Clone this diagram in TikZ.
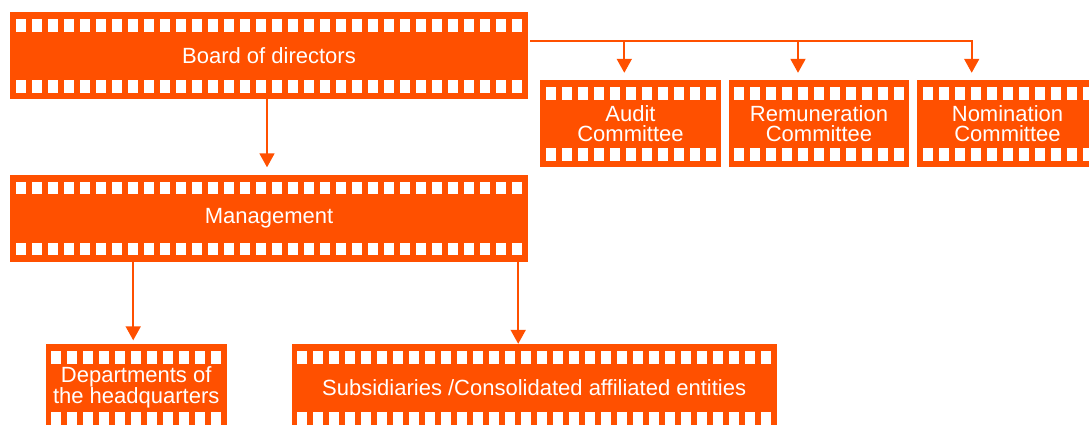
\documentclass[tikz,border=0pt]{standalone}
\usepackage{fontspec}
\setmainfont{Liberation Sans}
\usetikzlibrary{arrows.meta}
\definecolor{filmorange}{HTML}{FF5000}

\tikzset{
  film/.style={fill=filmorange, text=white, inner sep=0pt, minimum height=87pt,
    align=center, font=\fontsize{22}{20.5}\selectfont,
    path picture={
      \pgfpointdiff{\pgfpointanchor{path picture bounding box}{south west}}%
                   {\pgfpointanchor{path picture bounding box}{north east}}%
      \pgfgetlastxy{\filmw}{\filmh}%
      \pgfmathtruncatemacro{\nholes}{(\filmw-20)/16}%
      \pgfmathsetmacro{\hoff}{(\filmw-\nholes*16-10)/2}%
      \foreach \i in {0,...,\nholes}{
        \fill[white] ([xshift={(\hoff+\i*16)*1pt},yshift=-7pt]path picture bounding box.north west) rectangle ++(10pt,-12.7pt);
        \fill[white] ([xshift={(\hoff+\i*16)*1pt},yshift=6.3pt]path picture bounding box.south west) rectangle ++(10pt,12.7pt);
      }
    }},
  link/.style={draw=filmorange, line width=1.8pt, -{Triangle[width=15pt,length=14pt]}, shorten >=7pt}
}

\begin{document}
\begin{tikzpicture}[x=1pt,y=-1pt]
  \clip (0,0) rectangle (1089,425);
  \fill[white] (0,0) rectangle (1089,425);

  % film boxes
  \node (board) at (269,55.5) [film, minimum width=518pt] {Board of directors};
  \node (audit) at (630.5,123.5) [film, minimum width=181pt] {Audit\\Committee};
  \node (remun) at (819,123.5) [film, minimum width=180pt] {Remuneration\\Committee};
  \node (nomin) at (1007.5,123.5) [film, minimum width=181pt] {Nomination\\Committee};
  \node (mgmt) at (269,218) [film, minimum width=518pt] {Management};
  \node (dept) at (136.2,387.5) [film, minimum width=181pt] {Departments of\\the headquarters};
  \node (subs) at (534.2,387.5) [film, minimum width=485pt] {Subsidiaries /Consolidated affiliated entities};

  % committee branches
  \coordinate (tapA) at (624.3,40.7);
  \coordinate (tapR) at (798,40.7);
  \coordinate (tapN) at (971.7,40.7);
  \draw[link] ([xshift=2pt]board.east |- tapN) -- (tapN) -- (tapN |- nomin.north);
  \draw[link] (tapA) -- (tapA |- audit.north);
  \draw[link] (tapR) -- (tapR |- remun.north);

  % down the line
  \draw[link] ([xshift=-2pt]board.south) -- ([xshift=-2pt]mgmt.north);
  \draw[link, shorten >=3.5pt] ([xshift=-3pt]dept.north |- mgmt.south) -- ([xshift=-3pt]dept.north);
  \draw[link, shorten >=0pt] ([xshift=-10pt]mgmt.south east) -- ([xshift=-10pt]mgmt.south east |- subs.north);
\end{tikzpicture}
\end{document}
